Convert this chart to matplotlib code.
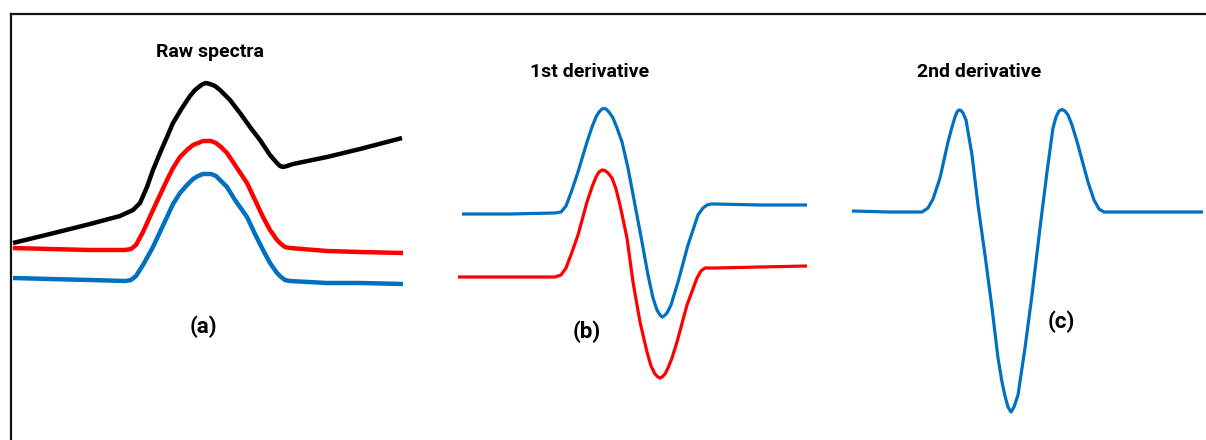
import matplotlib
matplotlib.use("Agg")
import matplotlib.pyplot as plt

plt.rcParams['font.family'] = ['Roboto', 'DejaVu Sans']

# traced curves, picture pixel units (x right, y down)
raw_x = [13, 50, 90, 120, 133, 140, 147, 153, 160, 167, 173, 182, 190, 195, 200, 203,
         206, 210, 215, 220, 230, 240, 250, 260, 270, 276, 280, 283, 287, 293, 327, 360, 402]
raw_black = [243, 234, 224, 216, 210, 203, 187, 170, 153, 137, 123, 108, 96, 90, 86, 84,
             83, 84, 86, 90, 100, 113, 127, 140, 155, 162, 166, 167, 166, 164, 157, 149, 138]

raw_x2 = [13, 50, 90, 125, 131, 136, 143, 153, 160, 167, 173, 180, 187, 193, 198, 203, 207,
          211, 216, 221, 227, 235, 247, 255, 263, 270, 277, 281, 285, 290, 327, 360, 403]
raw_red = [248, 249, 250, 250, 249, 245, 232, 210, 195, 180, 168, 157, 150, 145, 143, 141, 141,
           141, 143, 147, 153, 165, 183, 200, 217, 230, 240, 244, 247, 248, 251, 252, 253]
raw_blue = [278, 279, 280, 281, 280, 276, 265, 247, 232, 217, 204, 193, 185, 179, 176, 174, 174,
            174, 176, 181, 187, 200, 217, 234, 250, 263, 273, 277, 280, 281, 283, 283, 284]

d1_blue_x = [462, 510, 555, 561, 566, 572, 578, 587, 592, 596, 599, 602, 604, 606, 609, 613,
             617, 622, 628, 635, 642, 648, 653, 657, 660, 662, 664, 667, 671, 678, 688, 698,
             703, 707, 711, 715, 760, 807]
d1_blue_y = [214, 214, 213, 212, 206, 190, 172, 142, 127, 117, 112, 109, 108.5, 109, 112, 118,
             128, 142, 168, 205, 242, 275, 298, 310, 315, 317, 316, 313, 305, 282, 245, 215,
             208, 205, 204, 204, 205, 205]

d1_red_x = [458, 510, 555, 561, 566, 572, 578, 587, 592, 596, 599, 602, 605, 608, 612, 616,
            620, 627, 633, 640, 647, 651, 655, 658, 660, 662, 665, 668, 672, 677, 687, 697,
            701, 705, 710, 715, 760, 807]
d1_red_y = [277, 277, 277, 275, 268, 252, 235, 202, 187, 177, 172, 170, 170.5, 173, 178, 189,
            205, 238, 282, 322, 352, 366, 374, 377, 378, 377, 374, 368, 358, 342, 305, 278,
            271, 268, 268, 268, 267, 266]

d2_x = [852, 890, 922, 928, 933, 940, 948, 952, 955, 957, 959, 961, 963, 966, 972, 978,
        985, 992, 998, 1002, 1005, 1008, 1011, 1014, 1016, 1018, 1025, 1032, 1040, 1047,
        1053, 1056, 1059, 1062, 1065, 1068, 1072, 1078, 1088, 1094, 1099, 1104, 1110, 1150, 1203]
d2_y = [211, 212, 212, 208, 199, 178, 142, 127, 117, 112, 110, 110.5, 113, 120, 155, 205,
        255, 308, 358, 382, 396, 407, 412, 407, 401, 395, 348, 295, 228, 172,
        128, 117, 111, 109.5, 111, 115, 125, 145, 182, 200, 209, 212, 212, 212, 212]

titles = ["Raw spectra", "1st derivative", "2nd derivative"]
title_x = [210, 590, 979]
title_y = [52, 72, 72]
tags = ["(a)", "(b)", "(c)"]
tag_x = [203, 587, 1061]
tag_y = [327, 332, 322]

blue = '#0070c0'
red = '#ff0000'

fig = plt.figure(figsize=(12.06, 4.4), dpi=100)
ax = fig.add_axes([11 / 1206, 0, 1 - 11 / 1206, 426 / 440])
ax.set_xlim(11, 1206)
ax.set_ylim(440, 14)
ax.set_xticks([])
ax.set_yticks([])
for s in ['right', 'bottom']:
    ax.spines[s].set_visible(False)
for s in ['left', 'top']:
    ax.spines[s].set_linewidth(1.6)
    ax.spines[s].set_color('#111111')

ax.plot(raw_x, raw_black, color='black', lw=3.2, solid_capstyle='butt')
ax.plot(raw_x2, raw_red, color=red, lw=3.2, solid_capstyle='butt')
ax.plot(raw_x2, raw_blue, color=blue, lw=3.2, solid_capstyle='butt')

ax.plot(d1_blue_x, d1_blue_y, color=blue, lw=2.3, solid_capstyle='butt')
ax.plot(d1_red_x, d1_red_y, color=red, lw=2.3, solid_capstyle='butt')

ax.plot(d2_x, d2_y, color=blue, lw=2.3, solid_capstyle='butt')

for t, x, y in zip(titles, title_x, title_y):
    ax.text(x, y, t, ha='center', va='center', fontsize=14, fontweight='bold')
for t, x, y in zip(tags, tag_x, tag_y):
    ax.text(x, y, t, ha='center', va='center', fontsize=16, fontweight='bold')

fig.savefig('out.png', dpi=100)
